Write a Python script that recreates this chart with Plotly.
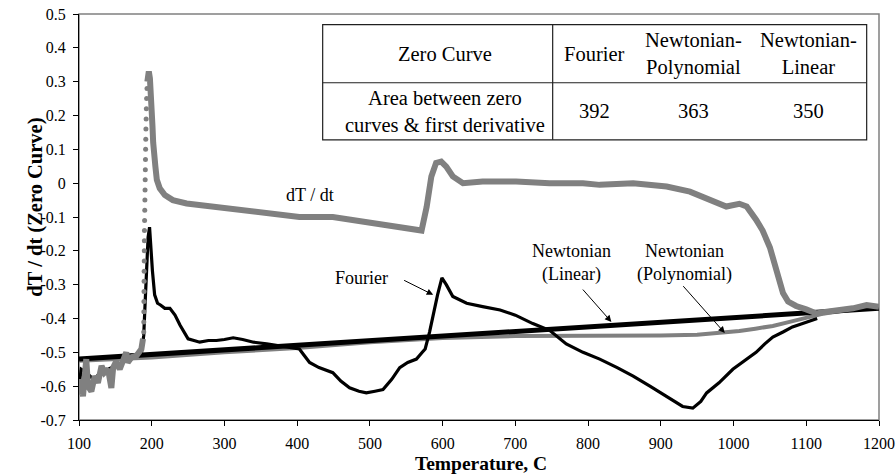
import plotly.graph_objects as go

# ---------------- data ----------------
# dT/dt (measured first derivative), gray
dtdt_left_x = [100, 102, 105.5, 108, 110, 112.4, 117, 121.6, 126, 131, 135, 140, 144.5, 147, 151, 156,
               160.6, 165, 167, 172, 179, 183.5, 185.8, 188]
dtdt_left_y = [-0.625, -0.58, -0.63, -0.527, -0.52, -0.6, -0.615, -0.57, -0.59, -0.54, -0.56, -0.55, -0.605,
               -0.545, -0.527, -0.55, -0.52, -0.50, -0.53, -0.515, -0.51, -0.50, -0.49, -0.46]
dtdt_rise_x = [189.0, 189.1, 189.2, 189.3, 189.4, 189.5, 189.6, 189.7, 189.8, 189.9, 190.0, 190.2, 190.4,
               190.6, 190.8, 191.0, 191.2, 191.4, 191.6, 191.8, 192.0, 192.3, 192.6, 193.0, 193.5]
dtdt_rise_y = [-0.44, -0.41, -0.38, -0.35, -0.32, -0.29, -0.26, -0.23, -0.20, -0.17, -0.14, -0.11, -0.08,
               -0.05, -0.02, 0.01, 0.04, 0.07, 0.10, 0.13, 0.16, 0.19, 0.22, 0.25, 0.28]
dtdt_right_x = [194, 195, 196, 197.5, 199, 200, 201, 202, 203, 205, 207, 211, 218, 229, 248, 266, 289, 312,
                335, 358, 381, 403, 449, 496, 541, 564, 571, 578, 584.5, 591, 598, 605, 614, 628, 655, 701,
                747, 793, 816, 862, 908, 940, 967, 990, 1008, 1018, 1031, 1040, 1050, 1057, 1063, 1068, 1075,
                1086, 1100, 1114, 1128, 1146, 1164, 1183, 1200]
dtdt_right_y = [0.30, 0.32, 0.33, 0.31, 0.27, 0.22, 0.17, 0.12, 0.08, 0.05, 0.01, -0.015, -0.035, -0.05,
                -0.06, -0.065, -0.068, -0.074, -0.08, -0.088, -0.094, -0.1, -0.1, -0.114, -0.128, -0.138,
                -0.14, -0.07, 0.02, 0.06, 0.064, 0.049, 0.02, 0.0, 0.005, 0.005, 0.0, 0.0, -0.005, 0.0,
                -0.01, -0.025, -0.049, -0.069, -0.061, -0.069, -0.108, -0.14, -0.19, -0.237, -0.286, -0.325,
                -0.35, -0.363, -0.373, -0.385, -0.38, -0.375, -0.37, -0.36, -0.365]

# Fourier zero curve, black thin
fourier_x = [100, 103, 110, 120, 130, 140, 150, 160, 170, 180, 186, 189, 191, 193, 195, 197, 199, 201, 204,
             208, 212, 218, 225, 232, 239, 245, 250, 258, 266, 278, 289, 300, 312, 325, 340, 358, 375, 390,
             403, 410, 417, 430, 449, 460, 472, 485, 495, 507, 518, 530, 541, 552, 564, 572, 576, 582, 587,
             593, 599, 605, 614, 623, 633, 655, 679, 700, 724, 747, 770, 793, 816, 840, 862, 885, 908, 930,
             944, 955, 963, 980, 999, 1015, 1031, 1043, 1054, 1068, 1081, 1095, 1110, 1115]
fourier_y = [-0.60, -0.55, -0.56, -0.58, -0.56, -0.55, -0.54, -0.53, -0.52, -0.51, -0.50, -0.45, -0.35,
             -0.25, -0.16, -0.13, -0.20, -0.26, -0.33, -0.355, -0.36, -0.37, -0.37, -0.39, -0.42, -0.44,
             -0.46, -0.465, -0.47, -0.465, -0.465, -0.462, -0.457, -0.462, -0.47, -0.475, -0.48, -0.485,
             -0.49, -0.51, -0.53, -0.545, -0.56, -0.585, -0.605, -0.615, -0.62, -0.615, -0.61, -0.58, -0.545,
             -0.53, -0.52, -0.50, -0.49, -0.44, -0.385, -0.33, -0.28, -0.30, -0.335, -0.345, -0.355, -0.365,
             -0.375, -0.39, -0.415, -0.435, -0.475, -0.50, -0.52, -0.545, -0.57, -0.60, -0.63, -0.66, -0.665,
             -0.645, -0.62, -0.59, -0.55, -0.525, -0.50, -0.475, -0.455, -0.44, -0.425, -0.415, -0.405, -0.40]

# Newtonian (Polynomial) zero curve, gray thick
poly_x = [100, 200, 300, 400, 500, 600, 700, 800, 900, 950, 985, 1008, 1030, 1054, 1077, 1100, 1125, 1150, 1200]
poly_y = [-0.525, -0.515, -0.50, -0.487, -0.47, -0.458, -0.452, -0.452, -0.45, -0.448, -0.443, -0.437, -0.43,
          -0.422, -0.41, -0.397, -0.385, -0.377, -0.365]

# Newtonian (Linear) zero curve, black thick
lin_x = [100, 1200]
lin_y = [-0.52, -0.37]

# axis ticks
x_tick_vals = [100, 200, 300, 400, 500, 600, 700, 800, 900, 1000, 1100, 1200]
y_tick_vals = [0.5, 0.4, 0.3, 0.2, 0.1, 0, -0.1, -0.2, -0.3, -0.4, -0.5, -0.6, -0.7]
y_tick_text = ["0.5", "0.4", "0.3", "0.2", "0.1", "0", "-0.1", "-0.2", "-0.3", "-0.4", "-0.5", "-0.6", "-0.7"]

# inset table
table_header = ["Zero Curve", "Fourier", "Newtonian-<br>Polynomial", "Newtonian-<br>Linear"]
table_row = ["Area between zero<br>curves & first derivative", "392", "363", "350"]

# ---------------- figure ----------------
GRAY = "#808080"
FONT = "Liberation Serif, Times New Roman, serif"

fig = go.Figure()
fig.add_trace(go.Scatter(x=poly_x, y=poly_y, mode="lines", line=dict(color=GRAY, width=4),
                         name="Newtonian (Polynomial)"))
fig.add_trace(go.Scatter(x=lin_x, y=lin_y, mode="lines", line=dict(color="black", width=5),
                         name="Newtonian (Linear)"))
fig.add_trace(go.Scatter(x=fourier_x, y=fourier_y, mode="lines", line=dict(color="black", width=3.2),
                         name="Fourier"))
fig.add_trace(go.Scatter(x=dtdt_left_x + [None] + dtdt_right_x, y=dtdt_left_y + [None] + dtdt_right_y,
                         mode="lines", line=dict(color=GRAY, width=6), connectgaps=False, name="dT / dt"))
fig.add_trace(go.Scatter(x=dtdt_rise_x, y=dtdt_rise_y, mode="markers",
                         marker=dict(color=GRAY, size=5), name="dT / dt"))

# plot-area border (gray)
fig.add_shape(type="rect", xref="paper", yref="paper", x0=0, x1=1, y0=0, y1=1,
              line=dict(color=GRAY, width=1.5), layer="below")

# table
tb_left, tb_right, tb_div = 0.3046, 0.9846, 0.5921
tb_top, tb_mid, tb_bot = 0.9736, 0.8307, 0.6902
fig.add_shape(type="rect", xref="paper", yref="paper", x0=tb_left, x1=tb_right, y0=tb_bot, y1=tb_top,
              line=dict(color="#202020", width=1.2), fillcolor="white", layer="above")
fig.add_shape(type="line", xref="paper", yref="paper", x0=tb_left, x1=tb_right, y0=tb_mid, y1=tb_mid,
              line=dict(color="#202020", width=1.2))
fig.add_shape(type="line", xref="paper", yref="paper", x0=tb_div, x1=tb_div, y0=tb_bot, y1=tb_top,
              line=dict(color="#202020", width=1.2))
col_centers = [0.4572, 0.6446, 0.768, 0.912]
row_centers = [(tb_top + tb_mid) / 2, (tb_mid + tb_bot) / 2]
tfont = dict(family=FONT, size=20.5, color="black")
for cx, txt in zip(col_centers, table_header):
    fig.add_annotation(x=cx, y=row_centers[0], xref="paper", yref="paper", text=txt, showarrow=False,
                       font=tfont, align="center", xanchor="center", yanchor="middle")
for cx, txt in zip(col_centers, table_row):
    fig.add_annotation(x=cx, y=row_centers[1], xref="paper", yref="paper", text=txt, showarrow=False,
                       font=tfont, align="center", xanchor="center", yanchor="middle")

# curve labels
ann_font = dict(family=FONT, size=18, color="black")
for (lx, ly, txt) in [(417, -0.035, "dT / dt"), (489, -0.28, "Fourier"),
                      (777, -0.236, "Newtonian<br>(Linear)"), (932, -0.236, "Newtonian<br>(Polynomial)")]:
    fig.add_annotation(x=lx, y=ly, text=txt, showarrow=False, font=ann_font, align="center",
                       xanchor="center", yanchor="middle")
# arrows
for (hx, hy, tx, ty) in [(587, -0.33, 545, -0.285), (832, -0.41, 791, -0.31), (988, -0.443, 929, -0.30)]:
    fig.add_annotation(x=hx, y=hy, ax=tx, ay=ty, xref="x", yref="y", axref="x", ayref="y", text="",
                       showarrow=True, arrowhead=2, arrowsize=1.3, arrowwidth=1, arrowcolor="black",
                       standoff=0, startstandoff=0)

# axis titles
fig.add_annotation(x=0.503, y=-0.106, xref="paper", yref="paper", text="<b>Temperature, C</b>",
                   showarrow=False, font=dict(family=FONT, size=19.5, color="black"),
                   xanchor="center", yanchor="middle")
fig.add_annotation(x=-0.054, y=0.525, xref="paper", yref="paper", text="<b>dT / dt (Zero Curve)</b>",
                   showarrow=False, textangle=-90, font=dict(family=FONT, size=20.5, color="black"),
                   xanchor="center", yanchor="middle")

fig.update_layout(
    template="none",
    width=896, height=476,
    margin=dict(l=79, r=17, t=14, b=56, pad=0),
    paper_bgcolor="white", plot_bgcolor="white",
    showlegend=False,
    font=dict(family=FONT, size=16, color="black"),
    xaxis=dict(range=[100, 1200], tickvals=x_tick_vals, showgrid=False, zeroline=False, automargin=False,
               showline=True, linecolor="black", linewidth=1, ticks="outside", ticklen=5,
               tickcolor="black", tickfont=dict(family=FONT, size=16, color="black"),
               ticklabelstandoff=4),
    yaxis=dict(range=[-0.7, 0.5], tickvals=y_tick_vals, ticktext=y_tick_text, showgrid=False,
               zeroline=False, showline=True, linecolor="black", linewidth=1, ticks="outside",
               automargin=False, ticklen=5, tickcolor="black",
               tickfont=dict(family=FONT, size=16, color="black"), ticklabelstandoff=4),
)

fig.write_html("out.html")
